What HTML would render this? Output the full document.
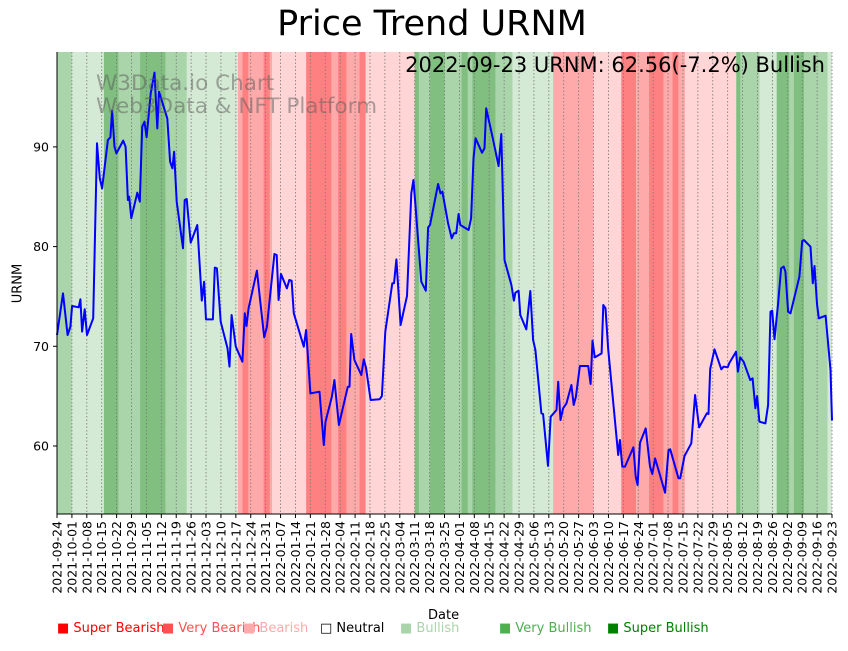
<!DOCTYPE html>
<html><head><meta charset="utf-8"><style>
body{margin:0;background:#fff;font-family:"Liberation Sans","DejaVu Sans",sans-serif}
svg text{font-family:"DejaVu Sans","Liberation Sans",sans-serif}
</style></head><body>
<svg id="chart" width="848" height="646" xmlns="http://www.w3.org/2000/svg"></svg>
<script>
const startDate = "2021-09-24";
const priceDays = [0,2.8,5,6.3,7.1,10.2,11,11.8,13,14.1,17,18.8,20.1,21.2,23.9,25.1,25.9,27,27.9,31.1,32.2,33.3,33.9,34.9,37.7,38.9,40,41.1,42.1,44,45.8,47.1,47.9,51.8,53.1,54.2,55,56.2,59.2,60,60.9,62.8,65.9,68,69.1,70,73.2,74.1,75.1,76.9,80.1,81,82,84,87.1,88.2,89,90,93.9,97.3,98.6,102.1,103.2,104.1,105.2,108,109.1,110.2,111.2,115.9,117,119,123.3,125.3,126.1,129.1,130.3,132.4,136.6,137.4,138.2,139.7,142.9,144.1,145.2,147.3,151.5,152.6,154.2,157.5,158.3,159.4,161.4,164.4,166.4,167.4,168.3,171.1,173.2,174.3,175.2,179,180.1,181,183.7,185.4,186.4,187.5,188.6,189.4,193.3,194.5,195.6,196.6,199.6,200.8,201.6,204.7,207.4,208.7,210.2,213.4,214.6,215.3,216.8,217.6,220.4,222.3,223.6,224.7,227.5,228.3,230.6,231.9,234.6,235.4,236.5,237.7,239.3,241.6,242.7,243.7,245.6,249.5,250.6,251.5,252.6,255.8,256.6,257.6,258.9,263.6,264.4,265.5,266.8,270.7,271.8,272.7,273.8,276.5,278.5,279.6,280.9,285.6,287.2,288,291.9,292.7,294.7,297.9,299.7,301.6,305.2,306,306.8,308.8,312,313.1,315,315.7,318.9,319.8,320.9,322.5,325.6,326.7,328,328.8,329.9,332.7,334,335.1,335.9,337,338.7,340.1,341.3,342.1,343.4,344.5,348.7,350,350.8,353.9,355,355.8,357,357.8,361,363.3,364];
const priceValues = [71.13,75.31,71.13,71.97,74.04,73.91,74.71,71.47,73.71,71.13,72.81,90.36,86.85,85.84,90.69,90.96,93.63,90.02,89.35,90.63,90.02,84.67,85.01,82.84,85.41,84.51,92.03,92.53,90.96,95.37,97.45,91.86,95.54,92.86,88.52,87.85,89.52,84.51,79.83,84.67,84.77,80.39,82.17,74.58,76.48,72.7,72.7,77.89,77.82,72.47,69.8,67.96,73.14,69.96,68.46,73.31,72.04,73.81,77.59,70.9,71.97,79.26,79.16,74.64,77.25,75.81,76.65,76.58,73.31,69.96,71.63,65.28,65.45,60.1,62.44,64.95,66.62,62.11,65.95,65.95,71.23,68.63,67.12,68.69,67.79,64.61,64.68,65.02,71.47,76.32,76.32,78.72,72.14,75.05,85.34,86.68,84.34,76.48,75.58,81.93,82.17,86.28,85.34,85.51,82.33,80.83,81.33,81.33,83.27,82.17,81.66,82.84,88.85,90.86,89.42,89.86,93.87,90.86,88.08,91.29,78.66,76.15,74.58,75.38,75.58,73.14,71.7,75.55,70.63,69.63,63.28,63.21,58,62.94,63.61,66.45,62.61,63.78,64.28,66.12,64.11,64.95,68.02,68.02,66.22,70.57,68.89,69.29,74.14,73.81,69.7,59.1,60.6,57.93,57.93,59.87,56.93,56.09,60.33,61.77,57.93,57.19,58.76,55.32,59.6,59.67,56.76,56.76,59,60.27,65.12,61.87,63.28,63.21,67.72,69.7,67.69,67.96,67.89,68.29,69.46,67.46,68.89,68.46,66.62,66.79,63.78,65.02,62.44,62.27,64.11,73.47,73.57,70.7,74.31,77.82,77.99,77.49,73.47,73.31,76.98,80.56,80.66,79.99,76.32,78.05,74.14,72.81,73.07,67.62,62.56];
const bandStarts = [0,7,22,29,39,51,61,85,87,90,97,100,101,117,129,132,136,142,145,168,170,175,182,190,193,195,206,214,233,252,265,272,278,285,289,292,295,319,321,330,338,344,346,351,362];
const bandLevels = [2,1,3,2,3,2,1,-2,-3,-2,-3,-2,-1,-3,-2,-3,-2,-3,-1,3,2,3,2,3,2,3,2,1,-2,-1,-3,-2,-3,-2,-3,-2,-1,3,2,1,3,2,3,2,1];
const yTicks = [60,70,80,90];
const totalDays = 364;

const svg = document.getElementById('chart');
const NS = "http://www.w3.org/2000/svg";
const L=57,R=832,T=52,B=514;
const xS = d => L + d*(R-L)/totalDays;
const yS = v => 446 - (v-60)*9.97;
function el(tag, attrs, parent){const e=document.createElementNS(NS,tag);for(const k in attrs)e.setAttribute(k,attrs[k]);(parent||svg).appendChild(e);return e;}
const bandColor = {"3":"#80bf80","2":"#aad4aa","1":"#d5ead5","-1":"#ffd5d5","-2":"#ffaaaa","-3":"#ff8080"};

for(let i=0;i<bandStarts.length;i++){
  const s=bandStarts[i], e=(i+1<bandStarts.length?bandStarts[i+1]:totalDays+1);
  const r=el('rect',{x:xS(s),y:T,width:Math.min(xS(e),R)-xS(s),height:B-T,fill:bandColor[bandLevels[i]]});
  
  
}
const d0 = new Date(startDate+"T00:00:00Z");
for(let d=0; d<=totalDays; d+=7){
  const x=xS(d);
  const g=el('line',{x1:x,x2:x,y1:T,y2:B,stroke:'#777','stroke-width':0.8,'stroke-dasharray':'1.5,2'});
  
  
  el('line',{x1:x,x2:x,y1:B,y2:B+4,stroke:'#000','stroke-width':1});
  const dt=new Date(d0.getTime()+d*86400000).toISOString().slice(0,10);
  const t=el('text',{x:0,y:0,transform:`translate(${x+4.5},${B+7}) rotate(-90)`,'text-anchor':'end','font-size':12.5,fill:'#000'});
  t.textContent=dt;
  
  
}
for(const v of yTicks){
  const y=yS(v);
  el('line',{x1:L-4,x2:L,y1:y,y2:y,stroke:'#000'});
  const t=el('text',{x:L-8,y:y+4.5,'text-anchor':'end','font-size':12.5});
  t.textContent=v;
  
  
}
let dstr='';
for(let i=0;i<priceDays.length;i++){dstr+=(i?'L':'M')+xS(priceDays[i]).toFixed(1)+','+yS(priceValues[i]).toFixed(1);}
const p=el('path',{d:dstr,fill:'none',stroke:'#0000ff','stroke-width':2,'stroke-linejoin':'round'});


el('line',{x1:L,x2:L,y1:T,y2:B,stroke:'#000','stroke-width':1});
el('line',{x1:L,x2:R,y1:B,y2:B,stroke:'#000','stroke-width':1});
</script>
<div style="position:absolute;left:0;top:0;width:848px;height:646px;pointer-events:none">
<div style="position:absolute;left:0;width:864px;top:4px;text-align:center;font-size:35px;font-family:'DejaVu Sans',sans-serif">Price Trend URNM</div>
<div style="position:absolute;left:96px;top:72px;font-size:21.5px;line-height:23px;color:rgba(90,90,90,0.5);font-family:'DejaVu Sans',sans-serif">W3Data.io Chart<br>Web3Data &amp; NFT Platform</div>
<div style="position:absolute;right:23px;top:53px;font-size:21px;font-family:'DejaVu Sans',sans-serif">2022-09-23 URNM: 62.56(-7.2%) Bullish</div>
<div style="position:absolute;left:-2px;top:276px;width:40px;text-align:center;transform:rotate(-90deg);font-size:13px;font-family:'DejaVu Sans',sans-serif">URNM</div>
<div style="position:absolute;left:428px;top:608px;font-size:13px;font-family:'DejaVu Sans',sans-serif">Date</div>
<div style="position:absolute;top:621px;left:0;font-size:13px;font-family:'DejaVu Sans',sans-serif;white-space:nowrap">
<span style="position:absolute;left:57px;color:#ff0000">■ Super Bearish</span>
<span style="position:absolute;left:162px;color:#ff5050">■ Very Bearish</span>
<span style="position:absolute;left:243px;color:#ffaaaa">■ Bearish</span>
<span style="position:absolute;left:320px;color:#000">□ Neutral</span>
<span style="position:absolute;left:400px;color:#aad4aa">■ Bullish</span>
<span style="position:absolute;left:499px;color:#4caf50">■ Very Bullish</span>
<span style="position:absolute;left:607px;color:#008000">■ Super Bullish</span>
</div>
</div>
</body></html>
